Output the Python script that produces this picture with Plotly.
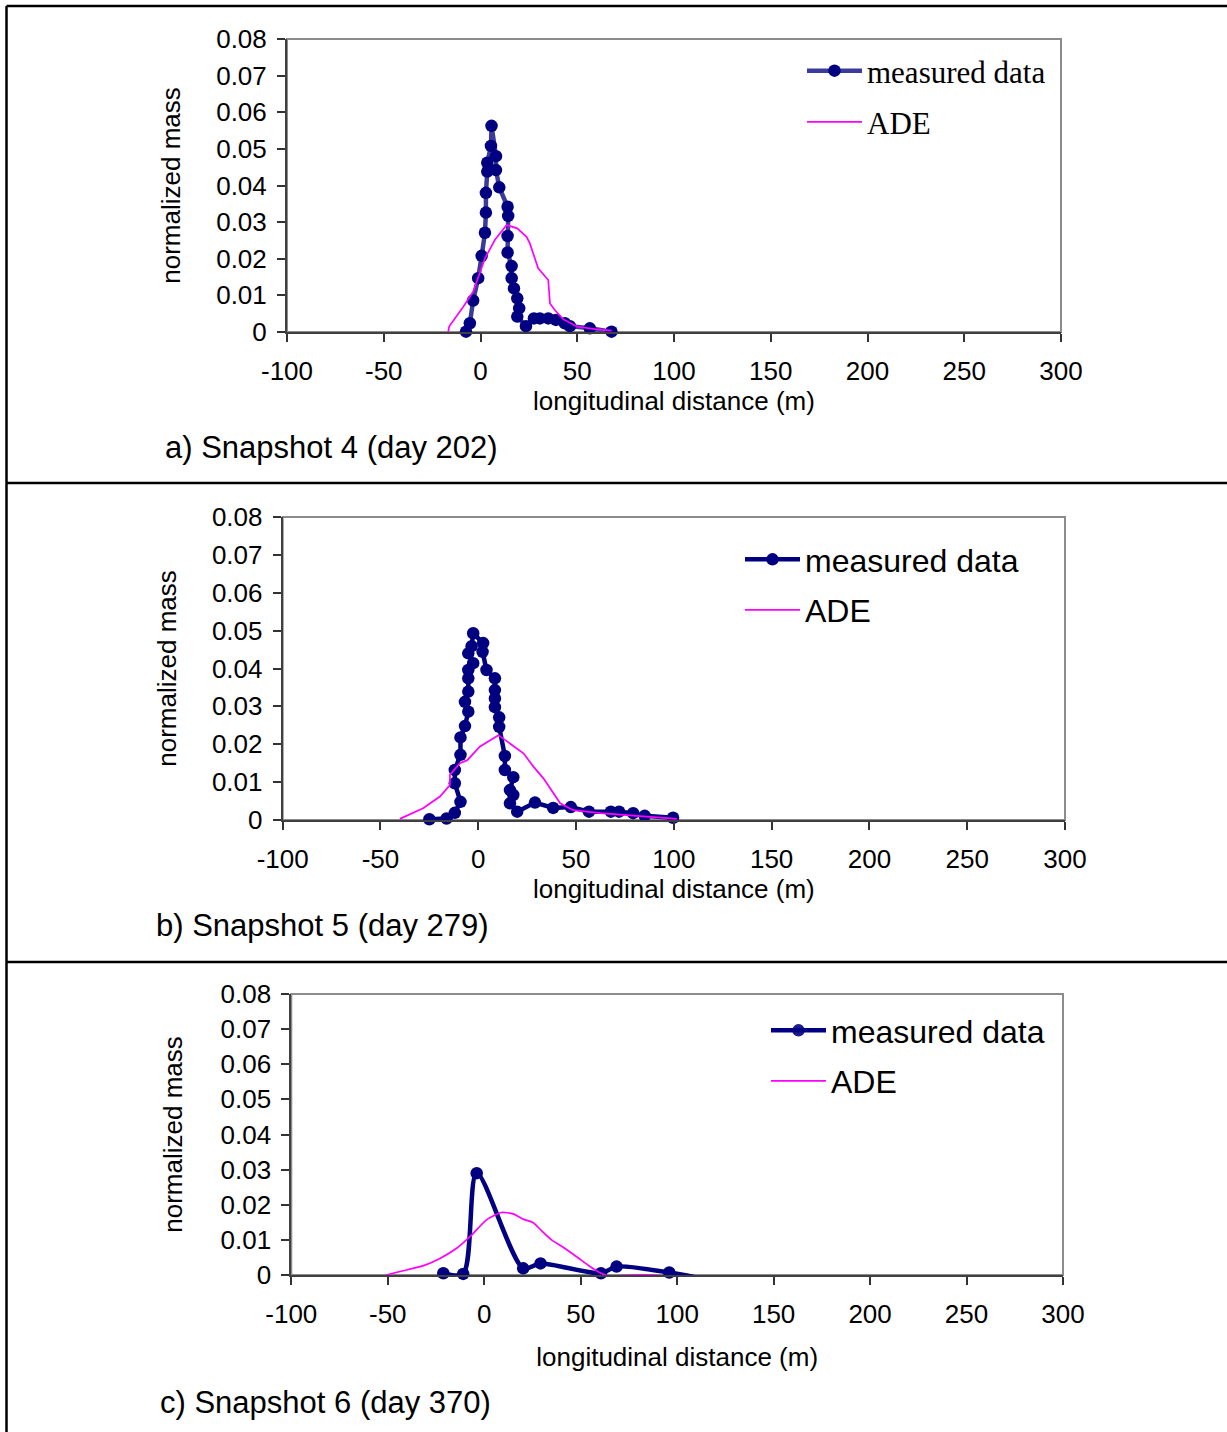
import plotly.graph_objects as go

W, H = 1227, 1432

# ---------------- data ----------------
# Panel a) Snapshot 4 (day 202)
a_meas_x = [-7.5, -5.5, -3.8, -1.2, 0.6, 2.3, 2.8, 2.8, 3.5, 3.5, 5.4, 5.7, 8.0, 8.0, 9.7,
            14.0, 14.3, 14.0, 14.0, 16.1, 16.1, 17.3, 19.0, 20.0, 19.0, 23.5, 27.6, 30.7,
            35.0, 39.0, 43.6, 46.2, 56.5, 67.7]
a_meas_y = [0.0001, 0.0024, 0.0086, 0.0147, 0.0208, 0.0271, 0.0326, 0.0380, 0.0438, 0.0462,
            0.0508, 0.0563, 0.0480, 0.0442, 0.0395, 0.0342, 0.0317, 0.0262, 0.0217, 0.0180,
            0.0147, 0.0119, 0.0092, 0.0065, 0.0042, 0.0016, 0.0037, 0.0037, 0.0037, 0.0033,
            0.0024, 0.0016, 0.0010, 0.0001]
a_ade_x = [-16.7, -16.2, -8.9, -3.8, 2.3, 7.4, 13.5, 19.0, 23.8, 25.5, 29.8, 35.0, 35.9,
           38.4, 42.7, 49.7, 60.0, 67.8]
a_ade_y = [0.0, 0.0015, 0.0069, 0.0110, 0.0201, 0.0251, 0.0292, 0.0283, 0.0260, 0.0242,
           0.0174, 0.0142, 0.0078, 0.0060, 0.0035, 0.0015, 0.0007, 0.0004]

# Panel b) Snapshot 5 (day 279)
b_meas_x = [-25.0, -16.2, -12.0, -9.1, -12.0, -12.0, -9.1, -9.1, -6.8, -5.1, -6.8, -5.1, -5.1,
            -5.1, -2.6, -5.1, -3.4, -2.6, 2.5, 2.2, 4.2, 8.5, 8.5, 8.5, 8.5, 10.7, 10.7, 13.6,
            13.6, 17.9, 16.2, 17.9, 16.2, 19.9, 29.0, 38.3, 47.3, 56.6, 67.8, 72.0, 79.2,
            85.1, 99.6]
b_meas_y = [0.0002, 0.0004, 0.0019, 0.0048, 0.0097, 0.0132, 0.0172, 0.0218, 0.0248, 0.0286,
            0.0312, 0.0339, 0.0374, 0.0396, 0.0414, 0.0440, 0.0459, 0.0493, 0.0467, 0.0444,
            0.0396, 0.0374, 0.0343, 0.0321, 0.0298, 0.0271, 0.0246, 0.0169, 0.0132, 0.0113,
            0.0079, 0.0066, 0.0044, 0.0022, 0.0046, 0.0032, 0.0034, 0.0022, 0.0022, 0.0022,
            0.0018, 0.0011, 0.0006]
b_ade_x = [-40.1, -28.2, -19.6, -14.5, -14.5, -9.4, -5.6, 0.9, 10.3, 19.7, 23.1, 28.2, 33.3,
           41.9, 48.6, 62.3, 86.2, 101.5]
b_ade_y = [0.0003, 0.0031, 0.0062, 0.0092, 0.0119, 0.0150, 0.0158, 0.0194, 0.0224, 0.0189,
           0.0176, 0.0141, 0.0110, 0.0044, 0.0026, 0.0018, 0.0009, 0.0003]

# Panel c) Snapshot 6 (day 370)
c_meas_x = [-21.2, -10.9, -3.9, 20.2, 29.2, 60.5, 68.6, 95.9, 111.8]
c_meas_y = [0.0005, 0.0003, 0.0290, 0.0019, 0.0033, 0.0005, 0.0024, 0.0007, -0.0009]
c_ade_x = [-50.9, -42.0, -30.7, -23.0, -14.3, -7.4, 1.2, 9.0, 15.0, 20.2, 25.4, 29.7, 34.9,
           40.9, 47.9, 54.8, 60.5, 65.1, 75.5, 87.6, 96.2, 108.3]
c_ade_y = [0.0, 0.0012, 0.0028, 0.0047, 0.0076, 0.0109, 0.0157, 0.0178, 0.0174, 0.0159,
           0.0149, 0.0126, 0.0100, 0.0079, 0.0052, 0.0024, 0.0005, -0.0003, 0.0, 0.0,
           -0.0005, -0.0009]

x_tickvals = [-100, -50, 0, 50, 100, 150, 200, 250, 300]
x_ticktext = ["-100", "-50", "0", "50", "100", "150", "200", "250", "300"]
y_tickvals = [0, 0.01, 0.02, 0.03, 0.04, 0.05, 0.06, 0.07, 0.08]
y_ticktext = ["0", "0.01", "0.02", "0.03", "0.04", "0.05", "0.06", "0.07", "0.08"]

captions = ["a) Snapshot 4 (day 202)", "b) Snapshot 5 (day 279)", "c) Snapshot 6 (day 370)"]
series_names = ["measured data", "ADE"]
x_title = "longitudinal distance (m)"
y_title = "normalized mass"

# ---------------- layout helpers ----------------
def px(x):
    return x / W

def py(y):
    return 1 - y / H

SANS = "Arial, Liberation Sans, sans-serif"
SERIF = "Times New Roman, Liberation Serif, serif"
NAVY = "#000080"
MAG = "#FF00FF"
AX_FONT = 26

# pixel boxes of the three plot areas: (left, right, top, bottom)
boxes = [(287, 1061, 39, 332), (282.7, 1065, 517, 820), (291.3, 1063, 994, 1275)]

fig = go.Figure()

panels = [
    (a_meas_x, a_meas_y, a_ade_x, a_ade_y, "#3b3b9b", 4.5, "linear", 1),
    (b_meas_x, b_meas_y, b_ade_x, b_ade_y, NAVY, 4.5, "linear", 1),
    (c_meas_x, c_meas_y, c_ade_x, c_ade_y, NAVY, 4.5, "spline",
     [1] * (len(c_meas_x) - 1) + [0]),
]
legend_names = ["legend", "legend2", "legend3"]

for i, (mx, my, ax_, ay_, lcol, lw, shape, mop) in enumerate(panels):
    xa = "x" if i == 0 else f"x{i+1}"
    ya = "y" if i == 0 else f"y{i+1}"
    fig.add_trace(go.Scatter(
        x=mx, y=my, mode="lines+markers", name=series_names[0],
        line=dict(color=lcol, width=lw, shape=shape, smoothing=0.8),
        marker=dict(color=NAVY, size=12.5, opacity=mop),
        xaxis=xa, yaxis=ya, legend=legend_names[i], legendgroup=f"m{i}",
        cliponaxis=False,
    ))
    fig.add_trace(go.Scatter(
        x=ax_, y=ay_, mode="lines", name=series_names[1],
        line=dict(color=MAG, width=1.7, shape="spline" if i == 2 else "linear", smoothing=0.6),
        xaxis=xa, yaxis=ya, legend=legend_names[i], legendgroup=f"a{i}",
        cliponaxis=False,
    ))

layout = dict(
    width=W, height=H,
    margin=dict(l=0, r=0, t=0, b=0, autoexpand=False),
    paper_bgcolor="white", plot_bgcolor="white",
    font=dict(family=SANS, size=AX_FONT, color="black"),
    shapes=[], annotations=[],
)

leg_font = [dict(family=SERIF, size=31, color="black"),
            dict(family=SANS, size=32, color="black"),
            dict(family=SANS, size=32, color="black")]
leg_gap = [8, 6, 6]
leg_text_x = [869, 807, 833]
leg_first_y = [74, 562, 1033]
x_title_standoff = [6, 6, 20]
y_title_standoff = [28, 28, 30]

for i, (l, r, t, b) in enumerate(boxes):
    sx = "" if i == 0 else str(i + 1)
    layout[f"xaxis{sx}"] = dict(
        domain=[px(l), px(r)], range=[-100, 300], anchor=f"y{sx}",
        tickvals=x_tickvals, ticktext=x_ticktext,
        ticks="outside", ticklen=8, tickwidth=1.5, tickcolor="#333333",
        showline=True, linecolor="#404040", linewidth=2,
        showgrid=False, zeroline=False, ticklabelstandoff=7,
        tickfont=dict(size=AX_FONT),
        title=dict(text=x_title, font=dict(size=AX_FONT), standoff=x_title_standoff[i]),
    )
    layout[f"yaxis{sx}"] = dict(
        domain=[py(b), py(t)], range=[0, 0.08], anchor=f"x{sx}",
        tickvals=y_tickvals, ticktext=y_ticktext,
        ticks="outside", ticklen=8, tickwidth=1.5, tickcolor="#333333",
        showline=True, linecolor="#404040", linewidth=2,
        showgrid=False, zeroline=False, ticklabelstandoff=5,
        tickfont=dict(size=AX_FONT),
        title=dict(text=y_title, font=dict(size=AX_FONT), standoff=y_title_standoff[i]),
    )
    # plot-area frame
    layout["shapes"].append(dict(
        type="rect", xref="paper", yref="paper", layer="below",
        x0=px(l), x1=px(r), y0=py(b), y1=py(t),
        line=dict(color="#8c8c8c", width=2), fillcolor="white",
    ))
    lname = legend_names[i]
    layout[lname] = dict(
        x=px(leg_text_x[i] - 67), y=py(leg_first_y[i] - 30),
        xanchor="left", yanchor="top",
        bgcolor="rgba(0,0,0,0)", borderwidth=0,
        font=leg_font[i], tracegroupgap=leg_gap[i], itemwidth=55,
    )

# captions
cap_pos = [(163, 447), (154, 925), (158, 1402)]
for (cx, cy), txt in zip(cap_pos, captions):
    layout["annotations"].append(dict(
        text=txt, xref="paper", yref="paper", x=px(cx), y=py(cy),
        xanchor="left", yanchor="middle", showarrow=False,
        font=dict(family=SANS, size=31, color="black"),
    ))

# outer frame lines
frame_lines = [
    (6.5, 6, 6.5, H),      # left border
    (6.5, 6, W, 6),        # top border
    (6.5, 483, W, 483),    # divider 1
    (6.5, 962, W, 962),    # divider 2
]
for x0, y0, x1, y1 in frame_lines:
    layout["shapes"].append(dict(
        type="line", xref="paper", yref="paper",
        x0=px(x0), y0=py(y0), x1=px(x1), y1=py(y1),
        line=dict(color="black", width=2.5),
    ))

fig.update_layout(**layout)
fig.write_html("out.html")
